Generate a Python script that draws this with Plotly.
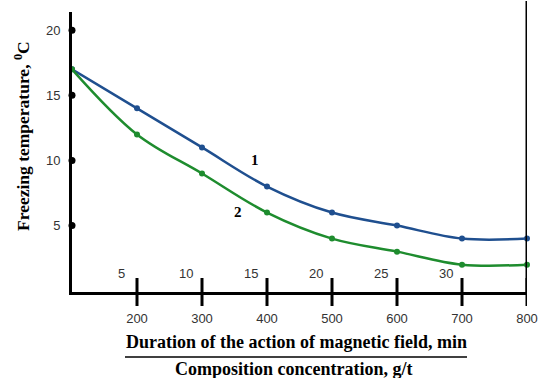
import plotly.graph_objects as go

duration = [100, 200, 300, 400, 500, 600, 700, 800]
temp_1 = [17, 14, 11, 8, 6, 5, 4, 4]
temp_2 = [17, 12, 9, 6, 4, 3, 2, 2]
x_ticks = [200, 300, 400, 500, 600, 700, 800]
conc_ticks = [200, 300, 400, 500, 600, 700]
conc_labels = ["5", "10", "15", "20", "25", "30"]
y_ticks = [5, 10, 15, 20]

BLUE = "#1f4f8f"
GREEN = "#1e8c2e"
W, H = 539, 378
L, R, T, B = 72, 12, 12, 86
PW = W - L - R
PH = H - T - B

def px(x):
    return (x - L) / PW

def py(y):
    return 1 - (y - T) / PH

fig = go.Figure()
fig.add_trace(go.Scatter(x=duration, y=temp_1, mode="lines+markers",
                         line=dict(color=BLUE, width=2.5, shape="spline"),
                         marker=dict(color=BLUE, size=6), cliponaxis=False))
fig.add_trace(go.Scatter(x=duration, y=temp_2, mode="lines+markers",
                         line=dict(color=GREEN, width=2.5, shape="spline"),
                         marker=dict(color=GREEN, size=6), cliponaxis=False))
# y tick dots on the axis
fig.add_trace(go.Scatter(x=[duration[0]] * len(y_ticks), y=y_ticks, mode="markers",
                         marker=dict(color="black", size=7), cliponaxis=False))

shapes = []
tk = 14 / PH
for v in x_ticks:
    shapes.append(dict(type="line", xref="x", yref="paper", x0=v, x1=v,
                       y0=-tk, y1=tk, line=dict(color="black", width=3)))
# right vertical line
shapes.append(dict(type="line", xref="x", yref="paper", x0=duration[-1], x1=duration[-1],
                   y0=0, y1=py(1), line=dict(color="black", width=3)))
# separator line between x titles
shapes.append(dict(type="line", xref="paper", yref="paper",
                   x0=px(125), x1=px(467), y0=py(357), y1=py(357),
                   line=dict(color="black", width=1.5)))

sans = dict(family="Liberation Sans", size=13, color="#333")
ann = []
for v, t in zip(conc_ticks, conc_labels):
    ann.append(dict(x=v, y=py(273), xref="x", yref="paper", text=t,
                    xanchor="center", yanchor="middle",
                    showarrow=False, xshift=-16, font=sans))
serif = "Liberation Serif"
def pann(x, y, text, size=18, **kw):
    d = dict(x=px(x), y=py(y), xref="paper", yref="paper", text=text, showarrow=False,
             xanchor="center", yanchor="middle",
             font=dict(family=serif, size=size, color="black"))
    d.update(kw)
    return d
ann.append(pann(22, 136, "<b>Freezing temperature, <sup>0</sup>C</b>", size=17.5, textangle=-90))
ann.append(pann(296, 342, "<b>Duration of the action of magnetic field, min</b>"))
ann.append(pann(294, 369, "<b>Composition concentration, g/t</b>"))
ann.append(pann(255, 160, "<b>1</b>", size=15))
ann.append(pann(238, 212, "<b>2</b>", size=15))

fig.update_layout(
    width=W, height=H, margin=dict(l=L, r=R, t=T, b=B, autoexpand=False),
    paper_bgcolor="white", plot_bgcolor="white", showlegend=False,
    shapes=shapes, annotations=ann,
    xaxis=dict(range=[100, 800], tickvals=x_ticks, showgrid=False, zeroline=False,
               showline=True, linecolor="black", linewidth=3, ticks="", automargin=False,
               ticklabelstandoff=12, tickfont=sans),
    yaxis=dict(range=[-0.1, 21.4], tickvals=y_ticks, showgrid=False, zeroline=False,
               showline=True, linecolor="black", linewidth=3, ticks="", automargin=False,
               ticklabelstandoff=6, tickfont=sans),
)
fig.write_html("out.html", config={"displayModeBar": False},
               post_script="document.body.style.margin='0';document.body.style.overflow='hidden';")
